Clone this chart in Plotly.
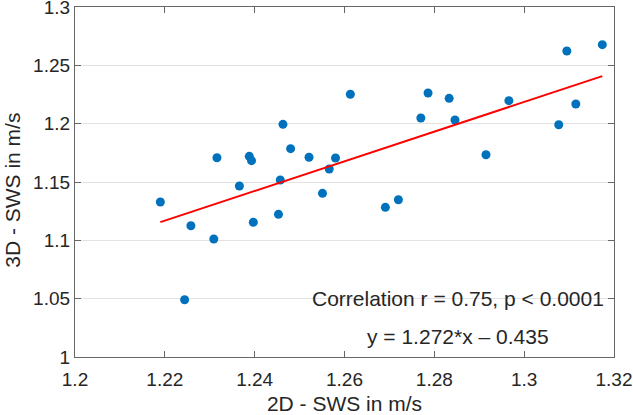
import plotly.graph_objects as go

sws_2d = [1.2190, 1.2258, 1.2309, 1.2397, 1.2453, 1.2244, 1.2316, 1.2366, 1.2388, 1.2393,
          1.2457, 1.2463, 1.2480, 1.2521, 1.2566, 1.2580, 1.2551, 1.2613, 1.2691, 1.2720,
          1.2770, 1.2786, 1.2833, 1.2846, 1.2915, 1.2966, 1.3077, 1.3095, 1.3115, 1.3174]
sws_3d = [1.1329, 1.1125, 1.1011, 1.1155, 1.1223, 1.0491, 1.1708, 1.1466, 1.1720, 1.1683,
          1.1517, 1.1994, 1.1786, 1.1712, 1.1611, 1.1706, 1.1403, 1.2252, 1.1283, 1.1348,
          1.2049, 1.2263, 1.2217, 1.2031, 1.1734, 1.2197, 1.1991, 1.2623, 1.2169, 1.2677]
slope = 1.272
intercept = -0.435
x_ticks = [1.2, 1.22, 1.24, 1.26, 1.28, 1.3, 1.32]
y_ticks = [1, 1.05, 1.1, 1.15, 1.2, 1.25, 1.3]
x_title = "2D - SWS in m/s"
y_title = "3D - SWS in m/s"
corr_text = "Correlation r = 0.75, p < 0.0001"
eq_text = "y = 1.272*x – 0.435"

x_fit = [min(sws_2d), max(sws_2d)]
y_fit = [slope * v + intercept for v in x_fit]

fig = go.Figure()
fig.add_trace(go.Scatter(x=sws_2d, y=sws_3d, mode="markers",
                         marker=dict(color="#0072BD", size=9), showlegend=False))
fig.add_trace(go.Scatter(x=x_fit, y=y_fit, mode="lines",
                         line=dict(color="#FF0000", width=2), showlegend=False))

FAM = "Liberation Sans, Arial, sans-serif"
tick_font = dict(family=FAM, size=19, color="#262626")
big_font = dict(family=FAM, size=21, color="#262626")
axis_common = dict(showline=True, linecolor="#666666", linewidth=1.3, mirror="ticks",
                   ticks="inside", ticklen=6, tickcolor="#666666", tickwidth=1,
                   zeroline=False, tickfont=tick_font, automargin=False,
                   ticklabeloverflow="allow")
fig.update_xaxes(range=[1.2, 1.32], tickvals=x_ticks,
                 ticktext=[f"{v:g}" for v in x_ticks], showgrid=False,
                 ticklabelstandoff=5,
                 title=dict(text=x_title, font=big_font, standoff=8), **axis_common)
fig.update_yaxes(range=[1.0, 1.3], tickvals=y_ticks,
                 ticktext=[f"{v:g}" for v in y_ticks], showgrid=True,
                 gridcolor="#E3E3E3", gridwidth=1, **axis_common)

fig.add_annotation(x=-0.115, y=0.475, xref="paper", yref="paper", text=y_title,
                   textangle=-90, showarrow=False, font=big_font,
                   xanchor="center", yanchor="middle")
fig.add_annotation(x=1.2853, y=1.05, xref="x", yref="y", text=corr_text,
                   showarrow=False, font=big_font, xanchor="center", yanchor="middle")
fig.add_annotation(x=1.2853, y=1.0173, xref="x", yref="y", text=eq_text,
                   showarrow=False, font=big_font, xanchor="center", yanchor="middle")

fig.update_layout(width=633, height=415, margin=dict(l=74.5, r=18.5, t=7, b=58),
                  plot_bgcolor="white", paper_bgcolor="white", font=tick_font)
fig.write_html("out.html", config={"displayModeBar": False},
               post_script="document.body.style.margin='0';document.body.style.overflow='hidden';")
